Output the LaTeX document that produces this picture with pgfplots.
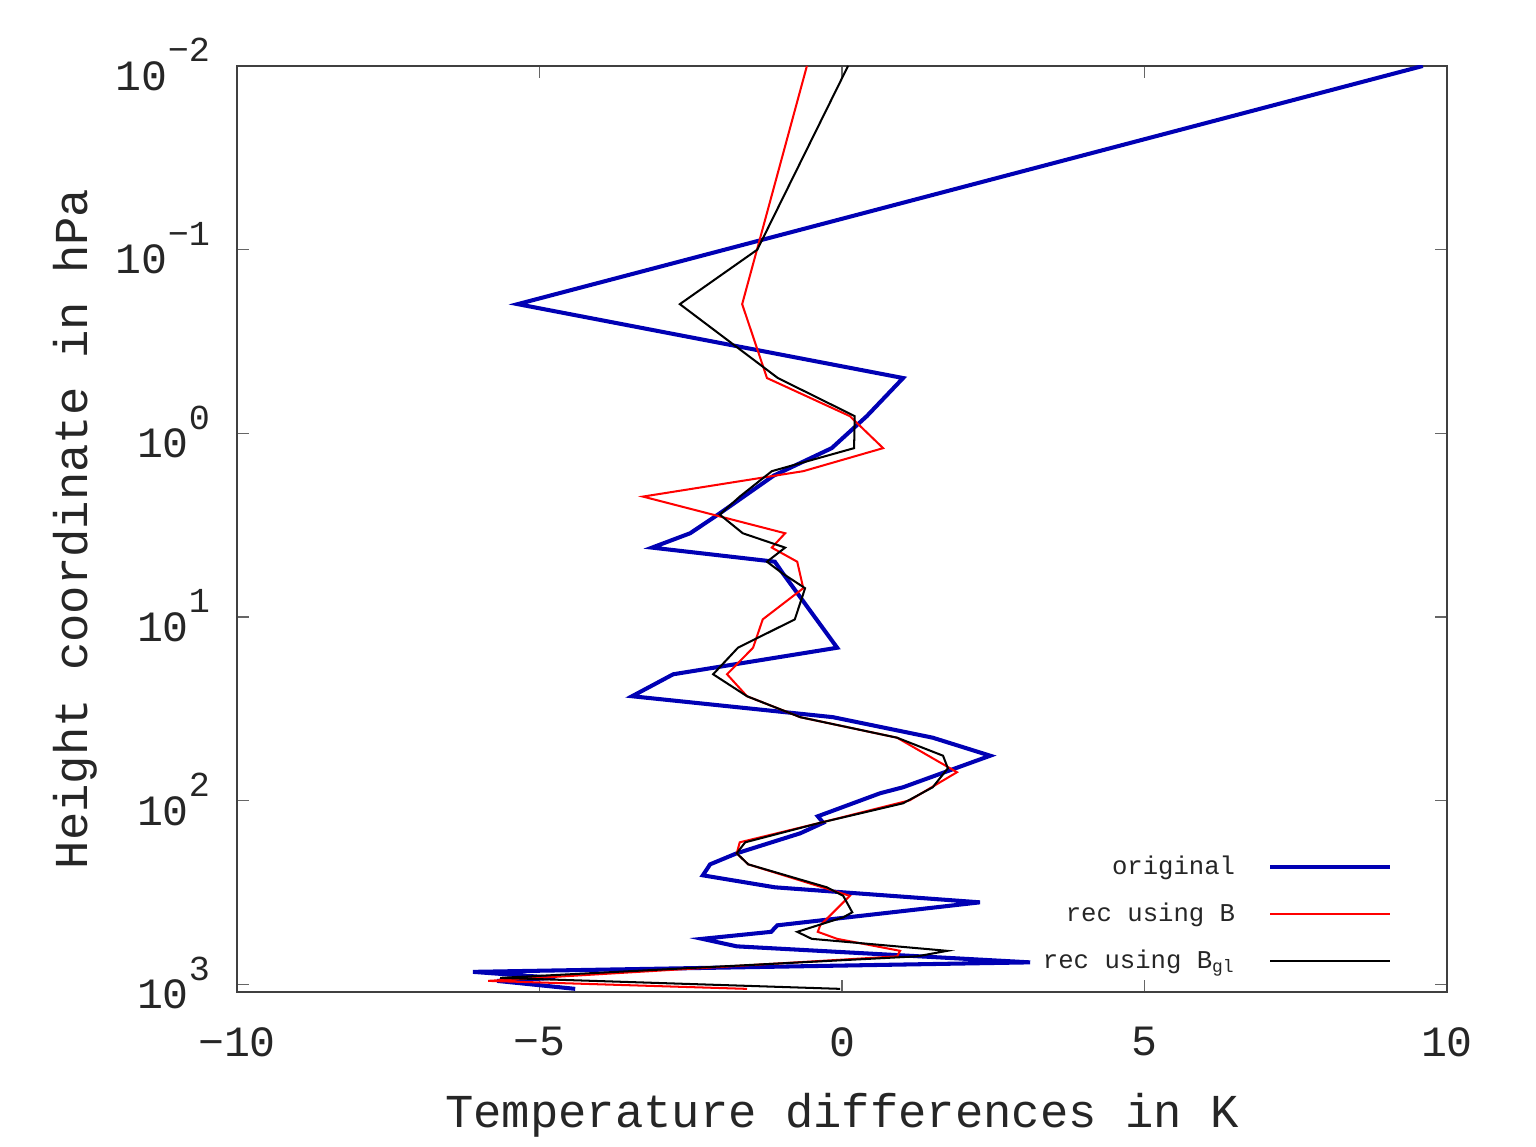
\documentclass[border=0pt]{standalone}
\usepackage{fontspec}
\setmainfont{Liberation Mono}
\usepackage{pgfplots}
\pgfplotsset{compat=1.18}
\definecolor{origblue}{RGB}{0,0,180}
\definecolor{recred}{RGB}{255,0,0}
\newcommand\sps[1]{\raisebox{10.5pt}{\fontsize{13}{14}\selectfont #1}}
\begin{document}
\begin{tikzpicture}
\begin{axis}[
  scale only axis, width=15.755cm, height=12.057cm,
  xmin=-10, xmax=10,
  ymode=log, ymin=0.01, ymax=1100, y dir=reverse,
  xtick={-10,-5,0,5,10},
  xticklabels={−10,−5,0,5,10},
  ytick={0.01,0.1,1,10,100,1000},
  yticklabels={10\sps{−2},10\sps{−1},10\sps{0},10\sps{1},10\sps{2},10\sps{3}},
  xminorticks=false, yminorticks=false,
  xtick pos=both, ytick pos=both,
  tick align=inside,
  major tick length=0.156cm,
  axis line style={black!75, line width=0.75pt},
  major tick style={black!60, line width=0.6pt},
  tick label style={font=\fontsize{16}{18}\selectfont, text=black!85},
  xticklabel style={yshift=-9.5pt},
  yticklabel style={xshift=-6.5pt, yshift=0.5pt},
  label style={font=\fontsize{17.5}{20}\selectfont, text=black!85},
  xlabel={Temperature differences in K},
  ylabel={Height coordinate in hPa},
  xlabel style={at={(axis description cs:0.5,-0.1335)}, anchor=center},
  ylabel style={at={(axis description cs:-0.134,0.5)}, anchor=center},
  legend plot pos=right,
  legend cell align=right,
  legend image code/.code={\draw[#1] (0cm,0cm) -- (1.56cm,0cm);},
  legend style={at={(axis description cs:0.955,0.0194)}, anchor=south east,
    draw=none, fill=none, inner sep=0pt,
    font=\fontsize{9.5}{11}\selectfont, text=black!85,
    nodes={inner sep=0pt, text height=7pt, text depth=2pt},
    row sep=8.4pt, column sep=0.43cm},
]
\addplot[origblue, line width=1.5pt] coordinates {
(9.60,0.01) (-5.36,0.198) (1.01,0.50) (0.41,0.806) (-0.17,1.204)
(-1.13,1.70) (-2.05,2.77) (-2.51,3.50) (-3.14,4.19) (-1.11,5.00)
(-0.98,5.77) (-0.08,14.7) (-2.79,20.5) (-3.47,27.0) (-0.15,35.1)
(1.50,45.4) (2.45,56.9) (1.01,84.5) (0.63,91.1) (-0.40,121.6)
(-0.31,131.9) (-0.69,150.5) (-1.74,193.4) (-2.18,222.1) (-2.30,254.9)
(-1.11,296.2) (2.28,357.6) (-1.07,477.1) (-1.17,517.6) (-2.31,565.1)
(-1.74,620.9) (3.11,759.1) (-6.10,855.0) (-4.74,921.8) (-5.70,957.2)
(-4.41,1058)
};
\addlegendentry{original}
\addplot[recred, line width=0.75pt] coordinates {
(-0.58,0.01) (-1.65,0.198) (-1.24,0.50) (0.13,0.806) (0.68,1.204)
(-0.64,1.607) (-3.29,2.21) (-0.94,3.50) (-1.16,4.19) (-0.74,5.00)
(-0.64,6.97) (-1.31,10.3) (-1.47,14.7) (-1.90,20.5) (-1.57,27.0)
(-0.69,35.1) (0.91,45.4) (1.90,70.0) (1.12,99.5) (-0.36,131.9)
(-1.69,168.5) (-1.74,193.4) (-1.55,222.1) (0.13,329.6) (-0.36,477.1)
(-0.40,517.6) (-0.08,565.1) (0.96,656.9) (0.91,703.9) (-5.85,957.2)
(-1.57,1058)
};
\addlegendentry{rec using B}
\addplot[black, line width=0.75pt] coordinates {
(0.10,0.01) (-1.40,0.1) (-2.68,0.198) (-1.06,0.50) (0.21,0.806)
(0.20,1.204) (-1.16,1.607) (-1.69,2.21) (-2.02,2.77) (-1.64,3.50)
(-0.94,4.19) (-1.24,5.00) (-0.99,5.77) (-0.61,6.97) (-0.78,10.3)
(-1.72,14.7) (-2.13,20.5) (-1.57,27.0) (-0.69,35.1) (0.91,45.4)
(1.67,56.9) (1.75,66.6) (1.50,84.5) (1.01,103.3) (-0.36,131.9)
(-1.60,168.5) (-1.74,193.4) (-1.55,222.1) (-0.25,296.2) (0.02,329.6)
(0.17,405.3) (0.02,431.5) (-0.74,517.6) (-0.50,565.1) (1.74,656.9)
(1.24,703.9) (-5.65,921.8) (-0.03,1058)
};
\addlegendentry{rec using B\textsubscript{gl}}
\end{axis}
\path[use as bounding box] ([shift={(-3.086cm,-1.836cm)}]current axis.south west) rectangle ([shift={(1.159cm,0.859cm)}]current axis.north east);
\end{tikzpicture}
\end{document}
